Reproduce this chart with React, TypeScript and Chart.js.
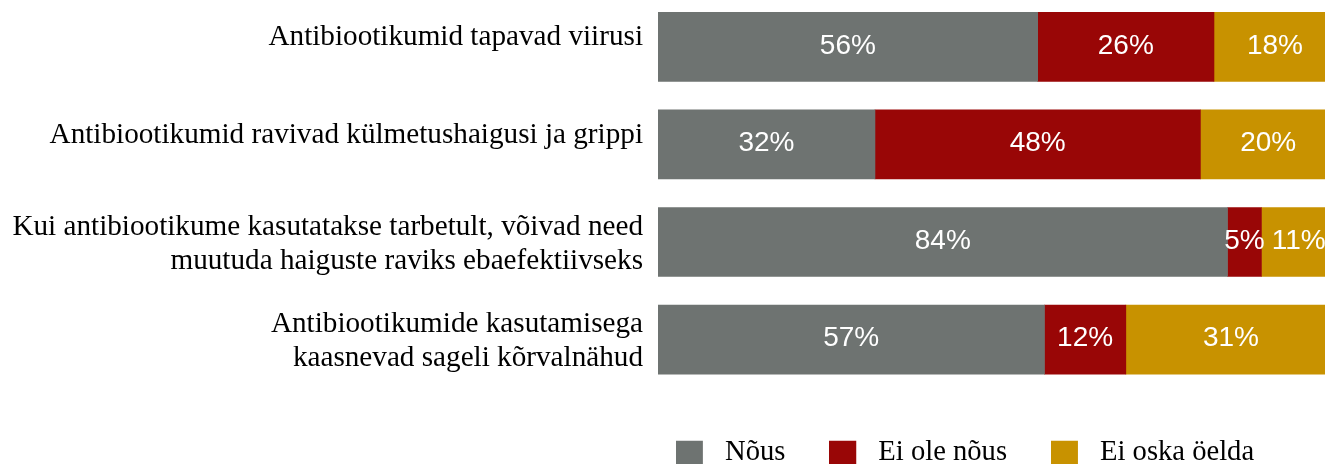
import React, { useEffect, useRef } from "react";
import { Chart, registerables } from "chart.js";

Chart.register(...registerables);

const categories: string[][] = [
  ["Antibiootikumid tapavad viirusi"],
  ["Antibiootikumid ravivad külmetushaigusi ja grippi"],
  ["Kui antibiootikume kasutatakse tarbetult, võivad need", "muutuda haiguste raviks ebaefektiivseks"],
  ["Antibiootikumide kasutamisega", "kaasnevad sageli kõrvalnähud"],
];
const seriesNames = ["Nõus", "Ei ole nõus", "Ei oska öelda"];
const agree = [56, 32, 84, 57];
const disagree = [26, 48, 5, 12];
const dontKnow = [18, 20, 11, 31];
const colors = ["#6e7371", "#990606", "#c89200"];

const CANVAS_W = 1336;
const CANVAS_H = 473;

const valueLabels = {
  id: "valueLabels",
  afterDatasetsDraw(chart: any) {
    const ctx = chart.ctx;
    ctx.save();
    ctx.font = '28px "Liberation Sans", Arial, sans-serif';
    ctx.fillStyle = "#ffffff";
    ctx.textAlign = "center";
    ctx.textBaseline = "middle";
    chart.data.datasets.forEach((ds: any, di: number) => {
      const meta = chart.getDatasetMeta(di);
      meta.data.forEach((el: any, i: number) => {
        const p = el.getProps(["x", "base", "y"], true);
        ctx.fillText(ds.data[i] + "%", (p.x + p.base) / 2, p.y - 1);
      });
    });
    ctx.restore();
  },
};

const legendPlace = {
  id: "legendPlace",
  afterLayout(chart: any) {
    const lg = chart.legend;
    if (!lg) return;
    lg.left = chart.chartArea.left - 26;
    lg.top += 5.5;
    lg.bottom += 5.5;
  },
};

function makeSwatch(color: string) {
  const c = document.createElement("canvas");
  c.width = 35;
  c.height = 31;
  const g = c.getContext("2d")!;
  g.fillStyle = color;
  g.fillRect(0, 4, 27, 27);
  return c;
}

export default function App() {
  const ref = useRef<HTMLCanvasElement>(null);
  useEffect(() => {
    document.body.style.margin = "0";
    const swatches = colors.map(makeSwatch);
    const lineHeights = [0.78, 0.78, 1.1724, 1.1724];
    const chart = new Chart(ref.current!, {
      type: "bar",
      data: {
        labels: categories,
        datasets: [agree, disagree, dontKnow].map((d, i) => ({
          label: seriesNames[i],
          data: d,
          backgroundColor: colors[i],
          borderWidth: 0,
          barThickness: 69,
        })),
      },
      options: {
        indexAxis: "y",
        responsive: false,
        animation: false,
        layout: { padding: 0 },
        scales: {
          x: { stacked: true, display: false, min: 0, max: 100 },
          y: {
            stacked: true,
            grid: { display: false, drawTicks: false },
            border: { display: false },
            ticks: {
              autoSkip: false,
              padding: 15,
              color: "#000000",
              labelOffset: 2,
              font: (ctx: any) => ({
                family: '"Liberation Serif", "Times New Roman", serif',
                size: 29.2,
                lineHeight: lineHeights[ctx.index] ?? 1.1724,
              }),
              callback: (_v: any, index: number) => {
                const l = categories[index];
                return l.length === 1 ? [l[0], ""] : l;
              },
            },
            afterFit: (s: any) => {
              s.width = 658;
              s.paddingTop = 0;
              s.paddingBottom = 0;
            },
          },
        },
        plugins: {
          tooltip: { enabled: false },
          legend: {
            position: "bottom",
            align: "start",
            labels: {
              usePointStyle: true,
              pointStyleWidth: 34.7,
              boxHeight: 27,
              padding: 44,
              color: "#000000",
              font: { family: '"Liberation Serif", "Times New Roman", serif', size: 28.6 },
              generateLabels: (ch: any) => {
                const items = (Chart.defaults.plugins.legend.labels as any).generateLabels(ch);
                return items.map((it: any, i: number) => ({
                  ...it,
                  pointStyle: swatches[i],
                  lineWidth: 0,
                  strokeStyle: "rgba(0,0,0,0)",
                  fontColor: "#000000",
                }));
              },
            },
          },
        },
      },
      plugins: [valueLabels, legendPlace],
    } as any);
    return () => chart.destroy();
  }, []);

  return (
    <div style={{ width: 1325, height: 464, overflow: "hidden", position: "relative" }}>
      <canvas
        ref={ref}
        width={CANVAS_W}
        height={CANVAS_H}
        style={{ display: "block", position: "absolute", left: 0, top: -2, width: CANVAS_W, height: CANVAS_H }}
      />
    </div>
  );
}
